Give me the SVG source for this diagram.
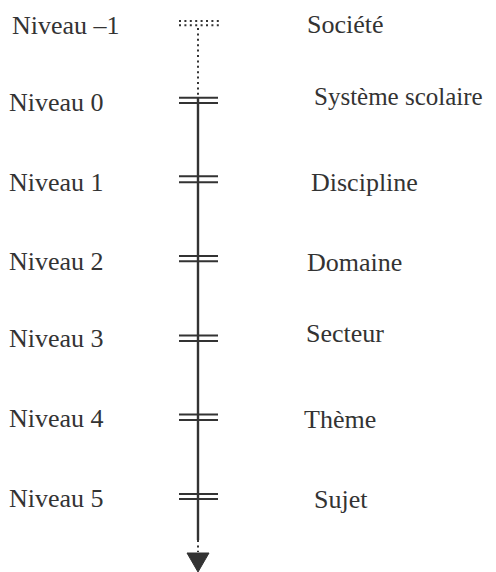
<svg xmlns="http://www.w3.org/2000/svg" width="496" height="572" viewBox="0 0 496 572">
<defs>
<polygon id="arrowhead" points="-11,0 11,0 0,19" fill="#333"/>
</defs>
<rect width="496" height="572" fill="#fff"/>
<g id="connectors" stroke="#333" fill="none">
<line x1="179" y1="21" x2="219" y2="21" stroke-width="2" stroke-dasharray="2 3.4"/>
<line x1="179" y1="25.3" x2="219" y2="25.3" stroke-width="2" stroke-dasharray="2 3.4"/>
<line x1="198" y1="28" x2="198" y2="97" stroke-width="2" stroke-dasharray="2 3.4"/>
<line x1="198" y1="97" x2="198" y2="540" stroke-width="2.4"/>
<line x1="198" y1="540" x2="198" y2="552" stroke-width="2" stroke-dasharray="2 3.4"/>
<use href="#arrowhead" x="198" y="553"/>
</g>
<g id="level-m1" font-family="Liberation Serif" font-size="26" fill="#333"><text x="12" y="34">Niveau –1</text><text x="307" y="33">Société</text></g>
<g id="level-0" font-family="Liberation Serif" font-size="26" fill="#333"><g stroke="#333" stroke-width="2"><line x1="179" y1="97.7" x2="218" y2="97.7"/><line x1="179" y1="103" x2="218" y2="103"/></g><text x="9" y="110.5">Niveau 0</text><text x="314" y="104.5" font-size="25">Système scolaire</text></g>
<g id="level-1" font-family="Liberation Serif" font-size="26" fill="#333"><g stroke="#333" stroke-width="2"><line x1="179" y1="176.3" x2="218" y2="176.3"/><line x1="179" y1="182.3" x2="218" y2="182.3"/></g><text x="9" y="190.7">Niveau 1</text><text x="311" y="190.7">Discipline</text></g>
<g id="level-2" font-family="Liberation Serif" font-size="26" fill="#333"><g stroke="#333" stroke-width="2"><line x1="179" y1="256" x2="218" y2="256"/><line x1="179" y1="261.3" x2="218" y2="261.3"/></g><text x="9" y="270">Niveau 2</text><text x="307" y="270.5">Domaine</text></g>
<g id="level-3" font-family="Liberation Serif" font-size="26" fill="#333"><g stroke="#333" stroke-width="2"><line x1="179" y1="335.5" x2="218" y2="335.5"/><line x1="179" y1="341" x2="218" y2="341"/></g><text x="9" y="347.3">Niveau 3</text><text x="306" y="341.7">Secteur</text></g>
<g id="level-4" font-family="Liberation Serif" font-size="26" fill="#333"><g stroke="#333" stroke-width="2"><line x1="179" y1="414.5" x2="218" y2="414.5"/><line x1="179" y1="420" x2="218" y2="420"/></g><text x="9" y="427.3">Niveau 4</text><text x="304" y="428.3">Thème</text></g>
<g id="level-5" font-family="Liberation Serif" font-size="26" fill="#333"><g stroke="#333" stroke-width="2"><line x1="179" y1="494" x2="218" y2="494"/><line x1="179" y1="499" x2="218" y2="499"/></g><text x="9" y="506.7">Niveau 5</text><text x="314" y="508.3">Sujet</text></g>
</svg>
